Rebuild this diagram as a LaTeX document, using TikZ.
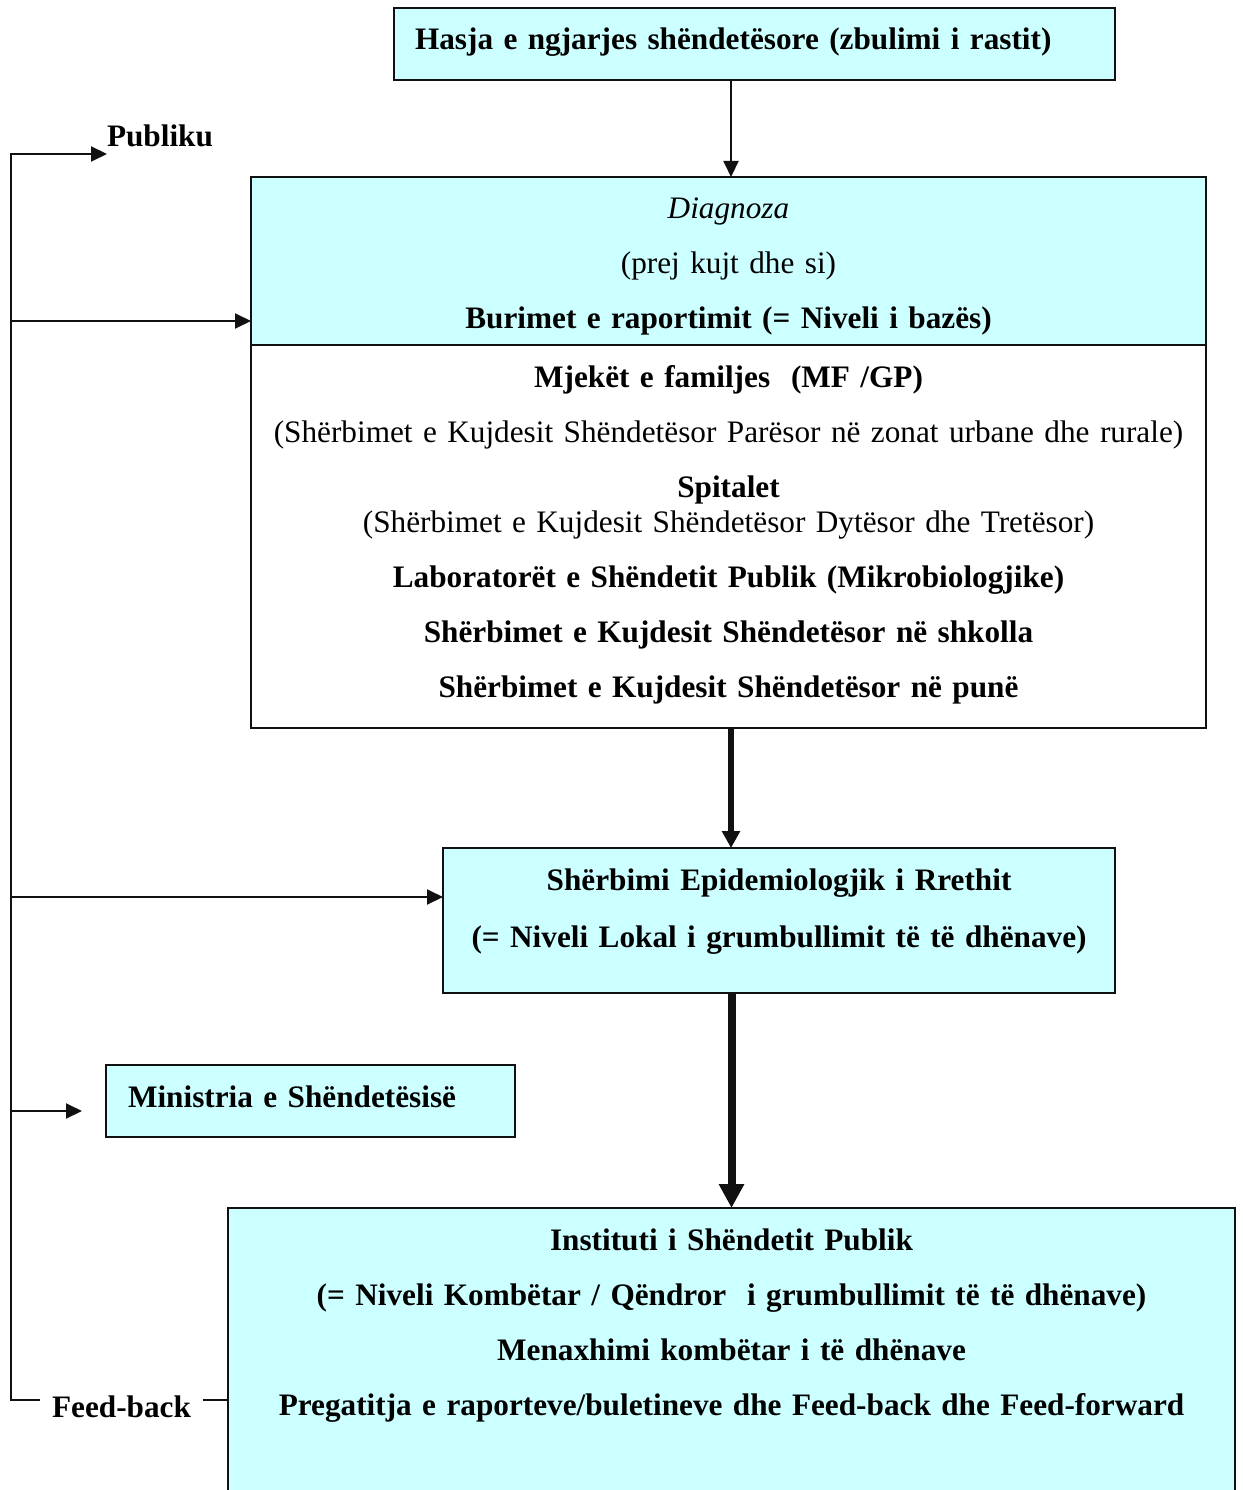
\documentclass[tikz,border=0pt]{standalone}
\usepackage{fontspec}
\setmainfont{Liberation Serif}
\usetikzlibrary{positioning,calc,arrows.meta}
\tikzset{px/.style={x=0.4pt,y=-0.4pt}}
\definecolor{kaltert}{HTML}{CCFFFF}
\definecolor{vija}{HTML}{111111}
\tikzset{
  kuti/.style={draw=vija,line width=0.8pt,fill=kaltert,inner sep=0pt,outer sep=0pt,anchor=north west,
    align=center,font=\fontsize{12.5}{22}\selectfont,text height=16.8pt},
  kutibardhe/.style={kuti,fill=white},
  etiketa/.style={font=\fontsize{12.5}{14}\selectfont\bfseries,inner ysep=0pt,inner xsep=0pt,outer sep=0pt},
  lidhje/.style={vija,line width=0.8pt},
  shigjete/.style={lidhje,-{Triangle[length=6.4pt,width=6pt]}},
  trashe/.style={vija,line width=2.7pt,-{Triangle[length=6.8pt,width=7pt]}},
  trashemadhe/.style={vija,line width=3.2pt,-{Triangle[length=9.6pt,width=9.6pt]}},
}
\begin{document}
\begin{tikzpicture}[px]
  \useasboundingbox (0,0) rectangle (1243,1490);
  \clip (0,0) rectangle (1243,1490);
  % kutite
  \node[kuti,align=left,inner xsep=8.4pt,text width=271.6pt,text depth=12pt] (hasja) at (394,8)
    {\textbf{Hasja e ngjarjes shëndetësore (zbulimi i rastit)}};
  \node[kuti,text width=382pt,text depth=50.4pt] (diag) at (251,177)
    {\textit{Diagnoza}\\(prej kujt dhe si)\\\textbf{Burimet e raportimit (= Niveli i bazës)}};
  \node[kutibardhe,text width=382pt,text depth=136.4pt] (burime) at (diag.south west)
    {\textbf{Mjekët e familjes\ \ (MF /GP)}\\(Shërbimet e Kujdesit Shëndetësor Parësor në zonat urbane dhe rurale)\\
     \textbf{Spitalet}\\[-8pt](Shërbimet e Kujdesit Shëndetësor Dytësor dhe Tretësor)\\
     \textbf{Laboratorët e Shëndetit Publik (Mikrobiologjike)}\\
     \textbf{Shërbimet e Kujdesit Shëndetësor në shkolla}\\
     \textbf{Shërbimet e Kujdesit Shëndetësor në punë}};
  \node[kuti,text width=268.8pt,text depth=41.2pt] (rrethi) at (443,848)
    {\textbf{Shërbimi Epidemiologjik i Rrethit}\\[0.8pt]\textbf{(= Niveli Lokal i grumbullimit të të dhënave)}};
  \node[kuti,align=left,inner xsep=8.8pt,text width=146pt,text depth=12pt] (mins) at (106,1065)
    {\textbf{Ministria e Shëndetësisë}};
  \node[kuti,text width=402.8pt,text depth=108pt] (ishp) at (228,1208)
    {\textbf{Instituti i Shëndetit Publik}\\\textbf{(= Niveli Kombëtar / Qëndror\ \ i grumbullimit të të dhënave)}\\
     \textbf{Menaxhimi kombëtar i të dhënave}\\\textbf{Pregatitja e raporteve/buletineve dhe Feed-back dhe Feed-forward}};
  % etiketat
  \node[etiketa,anchor=base west] (publiku) at (107,147) {Publiku};
  \node[etiketa,anchor=base,inner xsep=4.8pt] (feedback) at (121.5,1417) {Feed-back};
  \coordinate (maja) at (11,154);
  \coordinate (fbL) at ([yshift=2.4pt]feedback.west);
  \coordinate (fbR) at ([yshift=2.4pt]feedback.east);
  \coordinate (diagH) at ([yshift=9.6pt]diag.south west);
  \coordinate (rrethiH) at ([yshift=9.4pt]rrethi.west);
  \coordinate (minsH) at ([shift={(-9.6pt,-4pt)}]mins.west);
  % lidhjet
  \draw[shigjete] ([xshift=1pt]diag.north |- hasja.south) -- ([xshift=1pt]diag.north);
  \draw[trashe] ([xshift=1pt]burime.south) -- ([xshift=1pt]burime.south |- rrethi.north);
  \draw[trashemadhe] (ishp.north |- rrethi.south) -- (ishp.north);
  \draw[lidhje] (fbR) -- (fbR -| ishp.west);
  \draw[shigjete] (fbL) -| (maja) -- (publiku.west |- maja);
  \draw[shigjete] (maja |- diagH) -- (diagH);
  \draw[shigjete] (maja |- rrethiH) -- (rrethiH);
  \draw[shigjete] (maja |- minsH) -- (minsH);
\end{tikzpicture}
\end{document}
